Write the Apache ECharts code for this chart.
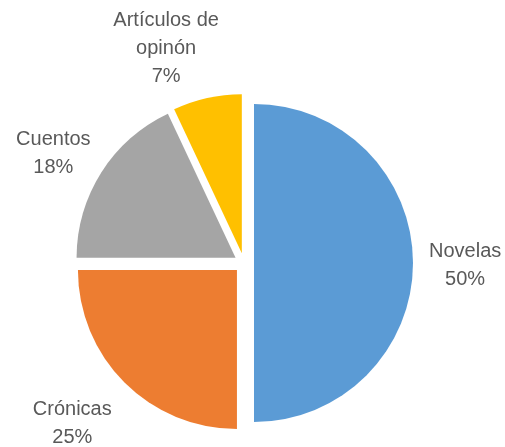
<!DOCTYPE html>
<html>
<head>
<meta charset="utf-8">
<script src="https://cdn.jsdelivr.net/npm/echarts@6/dist/echarts.min.js"></script>
<style>
  html, body { margin: 0; padding: 0; background: #ffffff; }
  #chart { width: 505px; height: 447px; }
</style>
</head>
<body>
<div id="chart"></div>
<script>
const categories = ['Novelas', 'Crónicas', 'Cuentos', 'Artículos de\nopinón'];
const values = [50, 25, 18, 7];
const colors = ['#5B9BD5', '#ED7D31', '#A5A5A5', '#FFC000'];

// layout constants (kept apart from the data)
const CENTER = [244, 263];
const RADIUS = 159;
const OFFSET = 10;
const GAP = 16;
const LINE_H = 28;
const LABEL_NUDGE = [[0, 2], [-13, 10], [-3, 5], [-26, 7]];

const total = values.reduce((a, b) => a + b, 0);
function midAngle(i) {
  let before = 0;
  for (let k = 0; k < i; k++) before += values[k];
  return (90 - 360 * (before + values[i] / 2) / total) * Math.PI / 180;
}

const chart = echarts.init(document.getElementById('chart'), null, { renderer: 'canvas' });
chart.setOption({
  animation: false,
  backgroundColor: '#ffffff',
  series: [{
    type: 'pie',
    name: 'slices',
    center: CENTER,
    radius: RADIUS,
    startAngle: 90,
    clockwise: true,
    selectedMode: 'multiple',
    selectedOffset: OFFSET,
    emphasis: { disabled: true },
    label: { show: false },
    labelLine: { show: false },
    data: categories.map((c, i) => ({
      name: c,
      value: values[i],
      selected: true,
      itemStyle: { color: colors[i] },
      select: { itemStyle: { color: colors[i] } }
    }))
  }, {
    type: 'pie',
    name: 'labels',
    center: CENTER,
    radius: RADIUS,
    startAngle: 90,
    clockwise: true,
    selectedMode: false,
    silent: true,
    avoidLabelOverlap: false,
    emphasis: { disabled: true },
    itemStyle: { color: 'rgba(0,0,0,0)' },
    label: {
      show: true,
      position: 'outside',
      formatter: p => p.name + '\n' + p.value + '%',
      fontFamily: 'Liberation Sans, Arial, sans-serif',
      fontSize: 20,
      lineHeight: LINE_H,
      color: '#595959',
      align: 'center'
    },
    labelLine: { show: false },
    labelLayout: function (params) {
      const i = params.dataIndex;
      const a = midAngle(i);
      const cos = Math.cos(a), sin = Math.sin(a);
      const w = params.labelRect.width;
      const h = params.labelRect.height;
      const A = RADIUS + OFFSET + GAP;
      return {
        x: CENTER[0] + A * cos + (w / 2) * cos + LABEL_NUDGE[i][0],
        y: CENTER[1] - A * sin - (h / 2) * sin + LABEL_NUDGE[i][1],
        align: 'center',
        verticalAlign: 'middle'
      };
    },
    data: categories.map((c, i) => ({ name: c, value: values[i] }))
  }]
});
</script>
</body>
</html>
